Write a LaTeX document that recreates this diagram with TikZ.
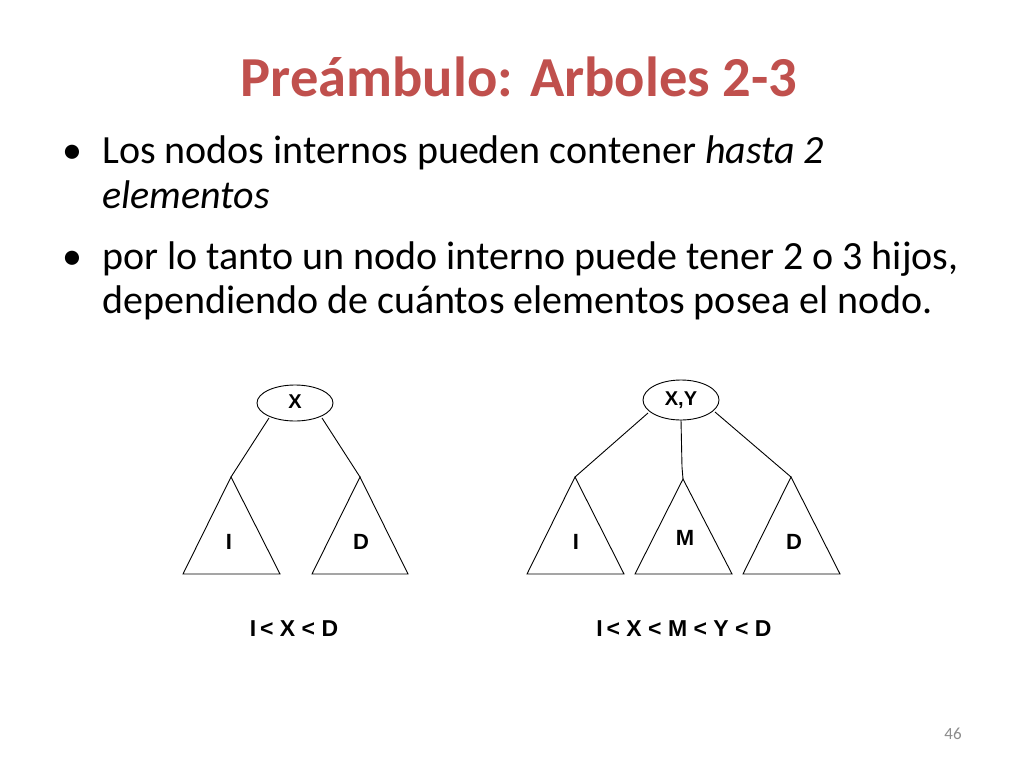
\documentclass[tikz,border=0pt]{standalone}
\usepackage{fontspec}
\setmainfont{Carlito}
\newfontfamily\arialb{Liberation Sans}[BoldFont={Liberation Sans Bold}]
\usetikzlibrary{shapes.geometric}
\definecolor{titlered}{HTML}{C0504D}
\definecolor{pgnum}{HTML}{8C8C8C}
\tikzset{
  x=1pt, y=-1pt,
  line/.style={draw=black, line width=0.9pt},
  bulletline/.style={anchor=base west, inner sep=0pt, font=\fontsize{40}{48}\selectfont},
  treelabel/.style={font=\arialb\bfseries\fontsize{22}{26}\selectfont, inner sep=0pt},
  rootlabel/.style={font=\arialb\bfseries\fontsize{20}{24}\selectfont, inner sep=0pt},
  relation/.style={font=\arialb\bfseries\fontsize{23}{26}\selectfont, inner sep=0pt},
}
\begin{document}
\begin{tikzpicture}
\useasboundingbox[fill=white] (0,0) rectangle (1024,768);
% title
\node[anchor=base, inner sep=0pt, text=titlered, font=\bfseries\fontsize{56.5}{64}\selectfont] (title) at (519,96) {Preámbulo: Arboles 2-3};
% bullets
\node[bulletline] (b1) at (62,163) {•};
\node[bulletline] (l1) at (102,163) {Los nodos internos pueden contener \textit{hasta 2}};
\node[bulletline] (l2) at (102,208) {\textit{elementos}};
\node[bulletline] (b2) at (62,269) {•};
\node[bulletline] (l3) at (102,269) {por lo tanto un nodo interno puede tener 2 o 3 hijos,};
\node[bulletline] (l4) at (102,313) {dependiendo de cuántos elementos posea el nodo.};
% tree 1
\draw[line] (295,403) ellipse [x radius=38, y radius=18];
\node[rootlabel] (r1) at (295,402) {X};
\coordinate (r1l) at (269,418);
\coordinate (r1r) at (322,418);
\coordinate (t1a) at (231,477);
\coordinate (t2a) at (360,477);
\draw[line] (t1a) -- (183,574) -- (280,574) -- cycle;
\draw[line] (t2a) -- (312,574) -- (408,574) -- cycle;
\draw[line] (r1l) -- (t1a);
\draw[line] (r1r) -- (t2a);
\node[treelabel] (i1) at (229,542) {I};
\node[treelabel] (d1) at (361,542) {D};
\node[relation] (rel1) at (294,629) {I\,< X < D};
% tree 2
\draw[line] (681,400) ellipse [x radius=38, y radius=20];
\node[rootlabel] (r2) at (681,400) {X,Y};
\coordinate (r2l) at (648,413);
\coordinate (r2m) at (681,420);
\coordinate (r2r) at (715,412);
\coordinate (u1a) at (575,477);
\coordinate (u2a) at (683,479);
\coordinate (u3a) at (791,477);
\draw[line] (u1a) -- (527,574) -- (624,574) -- cycle;
\draw[line] (u2a) -- (635,574) -- (732,574) -- cycle;
\draw[line] (u3a) -- (743,574) -- (840,574) -- cycle;
\draw[line] (r2l) -- (u1a);
\draw[line] (r2m) -- (682,467) -- (u2a);
\draw[line] (r2r) -- (u3a);
\node[treelabel] (i2) at (576,542) {I};
\node[treelabel] (m2) at (685,538) {M};
\node[treelabel] (d2) at (794,542) {D};
\node[relation] (rel2) at (684,629) {I\,< X < M < Y < D};
% page number
\node[text=pgnum, font=\fontsize{17}{20}\selectfont, inner sep=0pt] (pg) at (953,734) {46};
\end{tikzpicture}
\end{document}
